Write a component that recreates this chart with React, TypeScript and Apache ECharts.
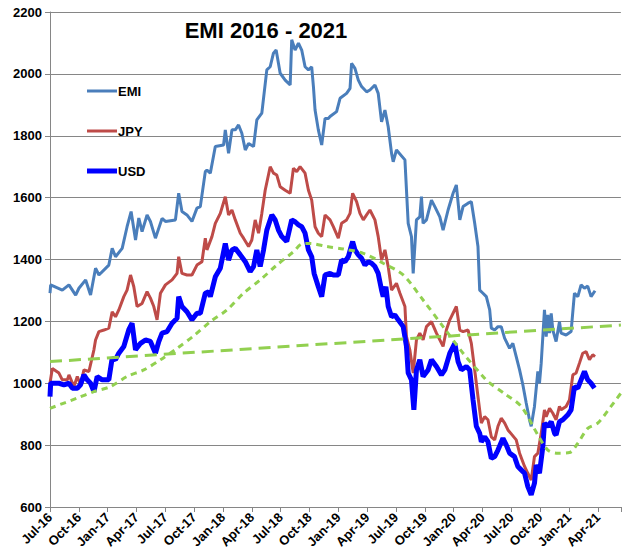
import React, { useEffect, useRef } from "react";
import * as echarts from "echarts";

// x = months since Jul-16
const tickLabels = ["Jul-16","Oct-16","Jan-17","Apr-17","Jul-17","Oct-17","Jan-18","Apr-18","Jul-18","Oct-18","Jan-19","Apr-19","Jul-19","Oct-19","Jan-20","Apr-20","Jul-20","Oct-20","Jan-21","Apr-21"];

const emi: number[][] = [[0,1291],[0.07,1318],[1.28,1301],[1.97,1318],[2.67,1285],[3.01,1307],[3.71,1334],[4.22,1285],[4.74,1372],[5.09,1350],[6.12,1382],[6.47,1436],[6.82,1409],[7.51,1436],[8.02,1506],[8.44,1555],[8.9,1463],[9.24,1534],[9.58,1490],[10.1,1544],[10.45,1523],[10.97,1469],[11.66,1533],[12.01,1523],[13.05,1528],[13.39,1614],[13.73,1555],[14.25,1544],[14.77,1523],[15.29,1566],[15.64,1571],[16.16,1684],[16.33,1689],[16.68,1679],[17.2,1765],[18.06,1770],[18.24,1819],[18.58,1743],[18.93,1819],[19.28,1819],[19.62,1835],[19.96,1808],[20.32,1754],[20.66,1775],[21.18,1765],[21.52,1851],[22.04,1873],[22.56,2013],[22.91,2023],[23.25,2067],[23.53,2077],[23.77,2034],[23.95,2002],[24.47,1980],[24.99,1964],[25.15,2110],[25.5,2077],[25.85,2099],[26.19,2077],[26.54,2023],[26.89,2013],[27.23,2023],[27.41,1959],[27.58,1883],[27.92,1819],[28.27,1770],[28.62,1856],[28.96,1856],[29.14,1862],[29.82,1878],[30.18,1921],[30.86,1937],[31.22,1953],[31.38,2034],[31.73,2018],[32.08,1980],[32.42,1959],[32.94,1942],[33.29,1948],[33.81,1964],[34.15,1937],[34.5,1845],[34.85,1883],[35.19,1829],[35.54,1743],[35.71,1716],[36.05,1754],[36.93,1722],[37.27,1517],[37.61,1474],[37.79,1355],[38.13,1528],[38.48,1538],[38.65,1603],[38.82,1517],[39.17,1528],[39.69,1592],[40.04,1571],[40.56,1538],[40.9,1495],[41.42,1560],[41.94,1614],[42.28,1641],[42.64,1528],[42.98,1571],[43.5,1582],[43.84,1587],[44.19,1517],[44.53,1442],[44.71,1301],[45.05,1291],[45.4,1280],[45.75,1237],[45.92,1178],[46.27,1172],[46.61,1183],[46.95,1183],[47.3,1146],[47.82,1113],[48.16,1129],[48.51,1086],[48.86,1043],[49.2,995],[49.55,936],[49.89,882],[50.07,861],[50.41,925],[50.76,1038],[50.93,1000],[51.11,1065],[51.45,1237],[51.63,1151],[51.8,1221],[51.98,1162],[52.15,1226],[52.32,1172],[52.66,1135],[53.01,1199],[53.18,1162],[53.7,1156],[54.22,1167],[54.57,1291],[54.92,1280],[55.26,1318],[55.61,1307],[55.95,1314],[56.3,1280],[56.71,1299]];

const jpy: number[][] = [[0,1000],[0.24,1048],[0.93,1033],[1.28,1011],[1.8,1011],[1.97,1027],[2.49,989],[2.84,1022],[3.18,995],[3.53,1043],[4.05,1038],[4.57,1108],[4.74,1140],[5.09,1167],[5.61,1172],[6.12,1178],[6.47,1231],[6.82,1215],[7.16,1237],[7.68,1280],[8.02,1301],[8.38,1350],[8.72,1312],[9.06,1248],[9.58,1258],[10.1,1296],[10.45,1275],[10.8,1248],[11.14,1205],[11.49,1291],[12.01,1318],[12.7,1334],[13.22,1355],[13.39,1409],[13.73,1355],[14.25,1350],[14.77,1350],[15.29,1382],[15.81,1393],[16.16,1469],[16.33,1431],[16.85,1474],[17.2,1517],[17.72,1549],[18.24,1603],[18.58,1544],[18.93,1560],[19.28,1528],[19.8,1485],[20.14,1469],[20.66,1442],[21,1463],[21.35,1528],[21.7,1485],[22.04,1549],[22.39,1624],[22.91,1700],[23.25,1679],[23.6,1673],[23.95,1635],[24.47,1624],[24.99,1614],[25.33,1695],[25.67,1684],[26.02,1700],[26.54,1679],[26.89,1624],[27.23,1592],[27.58,1506],[27.92,1485],[28.27,1474],[28.62,1544],[29.14,1528],[29.48,1506],[30,1469],[30.34,1517],[30.86,1528],[31.22,1549],[31.49,1614],[31.9,1587],[32.25,1549],[32.6,1528],[32.94,1544],[33.29,1560],[33.81,1528],[34.15,1474],[34.5,1398],[34.85,1431],[35.19,1377],[35.54,1301],[36.05,1323],[36.41,1291],[36.93,1248],[37.09,1151],[37.44,1108],[37.79,1033],[38.13,1140],[38.48,1162],[38.82,1140],[39.17,1183],[39.69,1199],[40.21,1162],[40.9,1119],[41.24,1172],[41.6,1205],[42.28,1248],[42.64,1172],[42.98,1167],[43.5,1172],[43.84,1129],[44.19,1043],[44.53,957],[44.88,871],[45.23,892],[45.57,882],[45.92,827],[46.27,817],[46.61,861],[46.95,887],[47.31,871],[47.65,849],[48.51,817],[48.86,774],[49.38,731],[49.72,709],[50.07,687],[50.41,763],[50.76,774],[51.11,838],[51.45,914],[51.63,892],[51.98,919],[52.32,903],[52.66,882],[53.01,925],[53.18,914],[53.7,925],[54.05,946],[54.4,1027],[54.74,1033],[55.09,1065],[55.43,1097],[55.78,1102],[56.13,1076],[56.47,1092],[56.71,1086]];

const usd: number[][] = [[0,957],[0.07,1000],[0.93,1000],[1.45,995],[1.97,1000],[2.32,984],[2.84,984],[3.18,995],[3.53,1027],[3.87,1011],[4.22,1000],[4.57,973],[4.91,1022],[5.43,1011],[6.12,1011],[6.47,1081],[6.82,1076],[7.16,1097],[7.68,1119],[8.2,1173],[8.54,1194],[8.9,1108],[9.42,1129],[9.93,1140],[10.45,1135],[10.97,1097],[11.32,1135],[11.66,1162],[12.18,1167],[12.7,1194],[13.22,1210],[13.39,1280],[13.73,1248],[14.25,1231],[14.77,1205],[15.29,1226],[15.64,1226],[16.16,1291],[16.51,1296],[16.68,1280],[17.2,1344],[17.72,1372],[18.24,1452],[18.58,1398],[18.93,1431],[19.28,1436],[19.8,1415],[20.32,1393],[20.83,1361],[21.18,1377],[21.52,1431],[21.87,1377],[22.22,1431],[22.56,1495],[23.08,1544],[23.43,1528],[23.77,1495],[24.12,1474],[24.63,1458],[25.15,1528],[25.5,1522],[25.85,1512],[26.19,1506],[26.54,1485],[26.89,1431],[27.23,1409],[27.48,1355],[27.92,1312],[28.27,1280],[28.62,1350],[29.14,1355],[29.48,1350],[30,1350],[30.34,1398],[30.7,1393],[31.04,1409],[31.49,1458],[31.73,1431],[32.08,1415],[32.42,1404],[32.77,1382],[33.12,1393],[33.46,1388],[33.81,1377],[34.15,1355],[34.5,1301],[34.67,1280],[34.95,1312],[35.19,1248],[35.54,1215],[35.88,1221],[36.23,1205],[36.75,1183],[37.09,1119],[37.27,1033],[37.61,1011],[37.86,914],[38.13,1043],[38.48,1076],[38.82,1022],[39.34,1043],[39.69,1076],[40.21,1054],[40.73,1027],[41.08,1043],[41.6,1097],[42.12,1129],[42.46,1070],[42.8,1043],[43.32,1054],[43.67,1043],[44.02,946],[44.36,861],[44.71,838],[44.88,811],[45.23,827],[45.57,811],[45.92,757],[46.27,763],[46.61,784],[47.13,822],[47.47,801],[47.82,774],[48.33,763],[48.68,731],[49.03,720],[49.38,709],[49.72,666],[50.07,639],[50.41,677],[50.59,736],[50.93,709],[51.28,795],[51.45,871],[51.8,860],[52.15,876],[52.5,838],[52.66,833],[53.01,876],[53.36,882],[53.88,898],[54.22,914],[54.57,989],[54.92,984],[55.26,1011],[55.61,1038],[55.95,1011],[56.3,1000],[56.65,984]];

const movingAvg: number[][] = [[0,919],[2.83,952],[4.57,973],[6.3,989],[8.02,1022],[9.76,1043],[11.49,1076],[13.22,1113],[14.95,1153],[16.68,1199],[18.41,1237],[20.14,1291],[21.87,1334],[23.6,1382],[25.33,1425],[26.19,1450],[27.06,1452],[28.79,1442],[30.52,1434],[32.6,1420],[34.67,1388],[36.75,1350],[38.82,1269],[40.9,1183],[42.98,1097],[45.05,1022],[45.57,1005],[47.31,966],[49.03,925],[50.76,833],[51.8,784],[52.84,774],[54.05,776],[54.92,806],[55.95,854],[56.99,871],[58.37,925],[59.4,968]];

const trend: number[][] = [[0,1070],[59.4,1188]];

const C_EMI = "#4a7ebb";
const C_JPY = "#be4b48";
const C_USD = "#0000ff";
const C_GREEN = "#92d050";
const GRID = "#868686";
const FONT = "Liberation Sans";

export default function App() {
  const ref = useRef<HTMLDivElement>(null);
  useEffect(() => {
    if (!ref.current) return;
    const chart = echarts.init(ref.current, null, { renderer: "svg" });
    const legendItem = (y: number, name: string, color: string, w: number) => [
      { type: "line", shape: { x1: 87, y1: y, x2: 117, y2: y }, style: { stroke: color, lineWidth: w } },
      { type: "text", x: 118, y, style: { text: name, fill: "#000", font: `bold 13px "${FONT}"`, textVerticalAlign: "middle" } },
    ];
    chart.setOption({
      animation: false,
      textStyle: { fontFamily: FONT },
      grid: { left: 50, right: 0, top: 12, bottom: 46, containLabel: false },
      xAxis: {
        type: "value",
        min: 0,
        max: 59.4,
        interval: 3,
        axisLine: { show: true, lineStyle: { color: GRID } },
        axisTick: { show: true, length: 5, lineStyle: { color: GRID } },
        splitLine: { show: false },
        axisLabel: {
          rotate: 45,
          margin: 8,
          fontSize: 13,
          fontWeight: "bold",
          color: "#000",
          fontFamily: FONT,
          formatter: (v: number) => {
            const q = v / 3;
            return Math.abs(q - Math.round(q)) < 1e-6 ? tickLabels[Math.round(q)] || "" : "";
          },
        },
      },
      yAxis: {
        type: "value",
        min: 600,
        max: 2200,
        interval: 200,
        axisLine: { show: true, lineStyle: { color: GRID } },
        axisTick: { show: true, length: 5, lineStyle: { color: GRID } },
        splitLine: { show: true, lineStyle: { color: GRID, width: 1 } },
        axisLabel: { margin: 8, fontSize: 13, fontWeight: "bold", color: "#000", fontFamily: FONT, formatter: (v: number) => String(v) },
      },
      series: [
        { name: "EMI", type: "line", data: emi, symbol: "none", lineStyle: { color: C_EMI, width: 3 } },
        { name: "JPY", type: "line", data: jpy, symbol: "none", lineStyle: { color: C_JPY, width: 3 } },
        { name: "USD", type: "line", data: usd, symbol: "none", lineStyle: { color: C_USD, width: 5 } },
        { name: "Trend", type: "line", data: trend, symbol: "none", lineStyle: { color: C_GREEN, width: 3, type: [12, 7] } },
        { name: "MA", type: "line", data: movingAvg, symbol: "none", smooth: 0.3, lineStyle: { color: C_GREEN, width: 3, type: [6, 5] } },
      ],
      graphic: [
        { type: "text", x: 266, y: 30, style: { text: "EMI 2016 - 2021", fill: "#000", font: `bold 22px "${FONT}"`, textAlign: "center", textVerticalAlign: "middle" } },
        ...legendItem(91, "EMI", C_EMI, 3),
        ...legendItem(131, "JPY", C_JPY, 3),
        ...legendItem(171, "USD", C_USD, 5),
      ],
    });
    return () => chart.dispose();
  }, []);
  return <div ref={ref} style={{ position: "absolute", left: 0, top: 0, width: 623, height: 553 }} />;
}
